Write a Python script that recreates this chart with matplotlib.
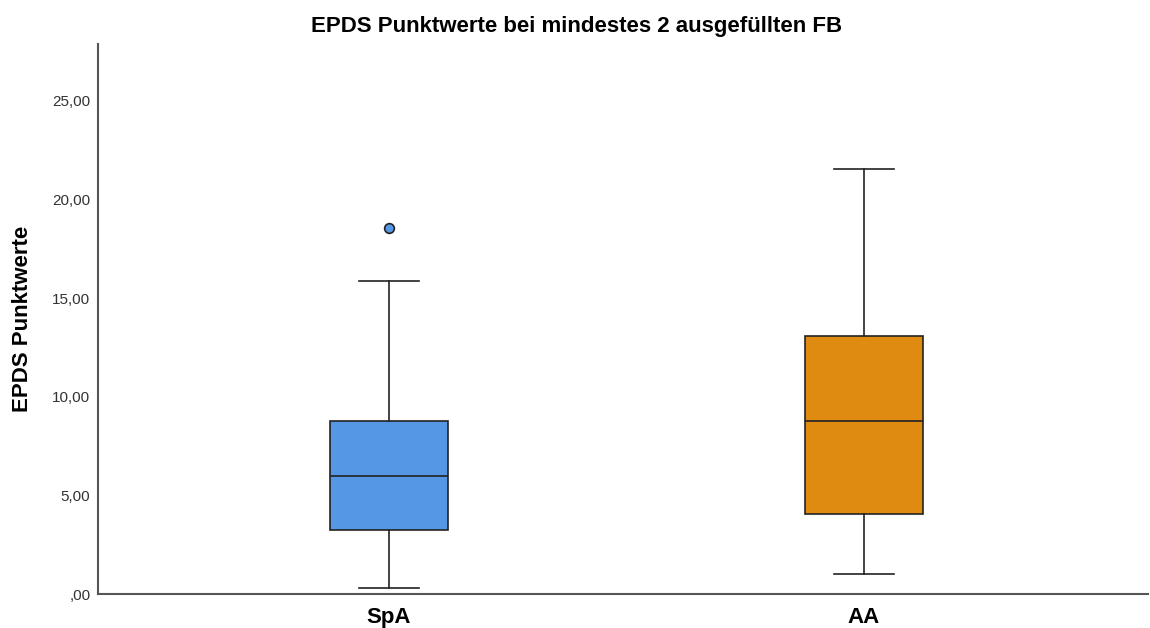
import matplotlib.pyplot as plt
from matplotlib.ticker import FuncFormatter

# box statistics per group (EPDS scores)
groups = ['SpA', 'AA']
whisker_low = [0.30, 1.00]
q1 = [3.25, 4.05]
median = [6.00, 8.77]
q3 = [8.78, 13.08]
whisker_high = [15.85, 21.57]
outliers = [[18.58], []]
colors = ['#5596E5', '#DF8A10']

plt.rcParams['font.family'] = ['Liberation Sans', 'DejaVu Sans']

stats = []
for k in range(len(groups)):
    stats.append({'label': groups[k], 'whislo': whisker_low[k], 'q1': q1[k],
                  'med': median[k], 'q3': q3[k], 'whishi': whisker_high[k],
                  'fliers': outliers[k]})

fig = plt.figure(figsize=(11.5, 6.28), dpi=100)
ax = fig.add_axes([0.0852, 0.0541, 0.913, 0.8759])

bp = ax.bxp(stats, positions=[1, 2], widths=0.248, capwidths=0.126,
            patch_artist=True, showfliers=True,
            boxprops=dict(edgecolor='#222222', linewidth=1.2),
            medianprops=dict(color='#222222', linewidth=1.2),
            whiskerprops=dict(color='#222222', linewidth=1.2),
            capprops=dict(color='#222222', linewidth=1.2))
for patch, c in zip(bp['boxes'], colors):
    patch.set_facecolor(c)
for fl, c in zip(bp['fliers'], colors):
    fl.set(marker='o', markerfacecolor=c, markeredgecolor='#222222',
           markersize=7, markeredgewidth=1.2)

ax.set_xlim(0.388, 2.598)
ax.set_ylim(0, 27.89)
ax.set_yticks([0, 5, 10, 15, 20, 25])
ax.yaxis.set_major_formatter(FuncFormatter(
    lambda v, p: ',00' if v == 0 else ('%.2f' % v).replace('.', ',')))
ax.tick_params(axis='y', length=0, labelsize=11, colors='#333333', pad=5.5)
ax.tick_params(axis='x', length=0, labelsize=16, pad=9)
for lab in ax.get_xticklabels():
    lab.set_fontweight('bold')

for side in ['top', 'right']:
    ax.spines[side].set_visible(False)
for side in ['left', 'bottom']:
    ax.spines[side].set_color('#555555')
    ax.spines[side].set_linewidth(1.5)

fig.text(0.501, 0.958, 'EPDS Punktwerte bei mindestes 2 ausgefüllten FB',
         ha='center', va='center', fontsize=16, fontweight='bold')
fig.text(0.02, 0.492, 'EPDS Punktwerte', rotation=90, ha='center', va='center',
         fontsize=16, fontweight='bold')

plt.savefig('out.png', dpi=100)
plt.close()
